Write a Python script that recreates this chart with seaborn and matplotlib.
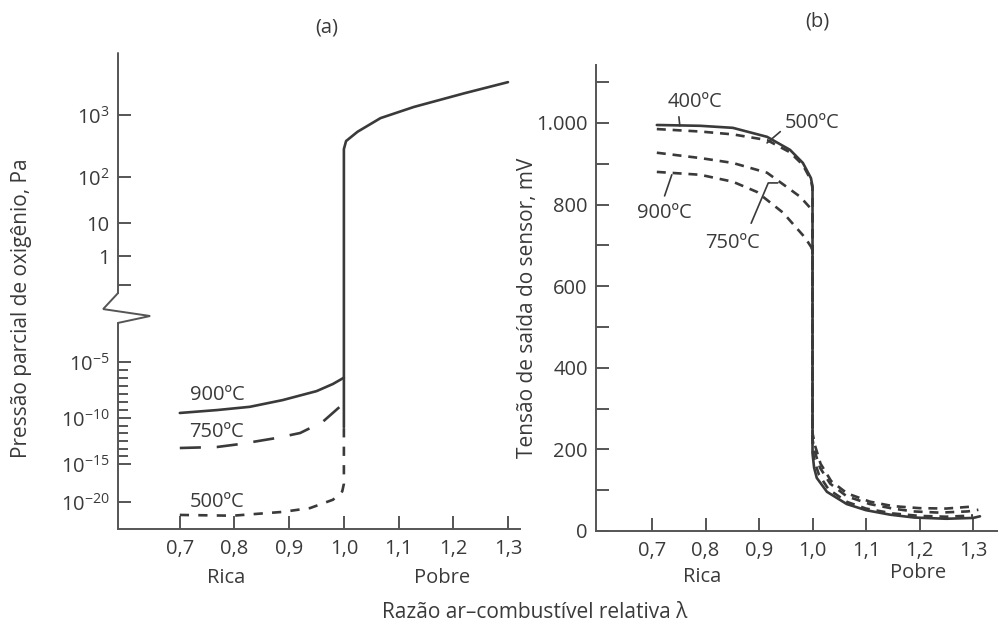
import numpy as np
import pandas as pd
import matplotlib
matplotlib.use("Agg")
import matplotlib.pyplot as plt
import matplotlib.transforms as mtransforms
import seaborn as sns

# ---------------------------------------------------------------------------
# Data
# ---------------------------------------------------------------------------
# (a) oxygen partial pressure, stored as log10(p / Pa), vs relative air-fuel ratio
lam_900_rich = [0.70, 0.768, 0.828, 0.888, 0.95, 0.98, 1.0]
logp_900_rich = [-9.55, -9.29, -9.0, -8.4, -7.6, -6.96, -6.4]

lam_750_rich = [0.70, 0.768, 0.81, 0.877, 0.92, 0.961, 0.992]
logp_750_rich = [-13.26, -13.15, -12.83, -12.17, -11.63, -10.43, -9.02]

lam_500_rich = [0.70, 0.797, 0.888, 0.938, 0.98, 0.997, 1.0, 1.0]
logp_500_rich = [-21.7, -21.8, -21.3, -20.8, -19.7, -18.6, -17.6, -11.0]

lam_lean = [1.0, 1.0, 1.004, 1.025, 1.067, 1.128, 1.22, 1.30]
logp_lean = [-11.0, 2.45, 2.58, 2.73, 2.95, 3.13, 3.35, 3.53]

logp_ticks = [3, 2, 1, 0, -1, -5, -10, -15, -20]
logp_tick_labels = ["$10^{3}$", "$10^{2}$", "10", "1", "",
                    "$10^{-5}$", "$10^{-10}$", "$10^{-15}$", "$10^{-20}$"]

# (b) sensor output voltage (mV) vs relative air-fuel ratio
lam_400 = [0.709, 0.79, 0.851, 0.915, 0.958, 0.982, 0.997, 1.0, 1.0,
           1.003, 1.008, 1.027, 1.064, 1.10, 1.145, 1.19, 1.25, 1.30, 1.313]
mv_400 = [995, 993, 988, 966, 934, 902, 865, 845, 190,
          155, 130, 96, 66, 51, 40, 33, 30, 32, 36]

lam_500 = [0.709, 0.79, 0.851, 0.915, 0.958, 0.982, 0.997, 1.0, 1.0,
           1.004, 1.012, 1.03, 1.065, 1.10, 1.15, 1.20, 1.25, 1.30]
mv_500 = [985, 979, 972, 958, 928, 897, 860, 840, 200,
          170, 138, 102, 71, 55, 43, 37, 35, 38]

lam_750 = [0.709, 0.79, 0.851, 0.915, 0.952, 0.977, 0.999, 1.0, 1.0,
           1.004, 1.014, 1.033, 1.064, 1.107, 1.15, 1.188, 1.238, 1.29, 1.31]
mv_750 = [927, 914, 902, 878, 843, 819, 787, 770, 225,
          195, 155, 116, 85, 66, 55, 48, 45, 48, 52]

lam_900 = [0.709, 0.79, 0.851, 0.896, 0.945, 0.986, 0.998, 1.0, 1.0,
           1.005, 1.015, 1.035, 1.065, 1.107, 1.15, 1.20, 1.25, 1.30]
mv_900 = [880, 873, 856, 831, 780, 719, 695, 680, 240,
          208, 165, 122, 92, 72, 61, 56, 55, 60]

mv_ticks = [0, 100, 200, 300, 400, 500, 600, 700, 800, 900, 1000, 1100]
mv_tick_labels = ["0", "", "200", "", "400", "", "600", "", "800", "", "1.000", ""]

lam_ticks = [0.7, 0.8, 0.9, 1.0, 1.1, 1.2, 1.3]
lam_tick_labels = ["0,7", "0,8", "0,9", "1,0", "1,1", "1,2", "1,3"]

# ---------------------------------------------------------------------------
# Style
# ---------------------------------------------------------------------------
sns.set_theme(style="white")
plt.rcParams["font.family"] = ["Open Sans", "DejaVu Sans"]
plt.rcParams["mathtext.default"] = "regular"

INK = "#3a3a3a"
AXC = "#555555"
LW = 1.9
FS = 14.5
FS_LABEL = 15

fig = plt.figure(figsize=(9.98, 6.33), dpi=100)
fig.patch.set_facecolor("white")

ax_a = fig.add_axes([118 / 998, 1 - 529 / 633, 402 / 998, (529 - 53) / 633])
ax_b = fig.add_axes([596 / 998, 1 - 531 / 633, 402 / 998, (531 - 65) / 633])

# Non-uniform pressure scale: piecewise-linear in decades with a broken axis
E_KNOTS = np.array([-20, -15, -10, -5, -1, 0, 1, 2, 3], float)
U_KNOTS = np.array([131, 169, 215, 271, 348, 377, 410, 456, 518], float)


def _pw(v, xs, ys):
    v = np.asarray(v, float)
    out = np.interp(v, xs, ys)
    s_lo = (ys[1] - ys[0]) / (xs[1] - xs[0])
    s_hi = (ys[-1] - ys[-2]) / (xs[-1] - xs[-2])
    out = np.where(v < xs[0], ys[0] + (v - xs[0]) * s_lo, out)
    out = np.where(v > xs[-1], ys[-1] + (v - xs[-1]) * s_hi, out)
    return out


def p_forward(e):
    return _pw(e, E_KNOTS, U_KNOTS)


def p_inverse(u):
    return _pw(u, U_KNOTS, E_KNOTS)


ax_a.set_yscale("function", functions=(p_forward, p_inverse))

for ax in (ax_a, ax_b):
    ax.set_facecolor("none")
    for side in ("top", "right"):
        ax.spines[side].set_visible(False)
    for side in ("left", "bottom"):
        ax.spines[side].set_color(AXC)
        ax.spines[side].set_linewidth(1.4)
    ax.tick_params(which="both", bottom=True, left=True, top=False, right=False)
    ax.tick_params(direction="in", length=9.5, width=1.4, color=AXC,
                   labelcolor=INK, labelsize=FS)
    ax.tick_params(axis="x", pad=7)
    ax.tick_params(axis="y", pad=6)
    ax.tick_params(which="minor", direction="in", length=7.5, width=1.4, color=AXC)
    ax.set_xticks(lam_ticks)
    ax.set_xticklabels(lam_tick_labels)
    ax.set_xlabel("")
    ax.set_ylabel("")


def curve(ax, x, y, dashes=None):
    ls = "-" if dashes is None else (0, dashes)
    sns.lineplot(x=x, y=y, ax=ax, estimator=None, sort=False, color=INK,
                 linewidth=LW, linestyle=ls, legend=False)


# ---------------------------------------------------------------------------
# (a) Oxygen partial pressure
# ---------------------------------------------------------------------------
curve(ax_a, lam_900_rich, logp_900_rich)
curve(ax_a, lam_750_rich, logp_750_rich, dashes=(8, 6))
curve(ax_a, lam_500_rich, logp_500_rich, dashes=(3.5, 3.5))
curve(ax_a, lam_lean, logp_lean)

ax_a.set_xlim(0.587, 1.322)
ax_a.set_ylim(-23.55, 4.0)
ax_a.set_yticks(logp_ticks)
ax_a.set_yticklabels(logp_tick_labels)
minor_e = list(-5 - np.arange(1, 7) * 5 / 7) + list(-10 - np.arange(1, 6) * 5 / 6)
ax_a.set_yticks(minor_e, minor=True)
ax_a.tick_params(axis="y", which="minor", labelleft=False)

# broken left spine with zigzag
ax_a.spines["left"].set_visible(False)
tr = mtransforms.blended_transform_factory(ax_a.transAxes, ax_a.transData)
spine_kw = dict(color=AXC, lw=1.4, transform=tr, clip_on=False, solid_joinstyle="miter")
ax_a.plot([0, 0], [4.0, -1.42], **spine_kw)
ax_a.plot([0, -0.037, 0.080, 0], [-1.42, -2.25, -2.61, -2.97], **spine_kw)
ax_a.plot([0, 0], [-2.97, -23.55], **spine_kw)

for txt, x, y in [("900ºC", 0.768, -7.95), ("750ºC", 0.768, -11.5), ("500ºC", 0.768, -20.0)]:
    ax_a.text(x, y, txt, ha="center", va="center", fontsize=FS, color=INK)

# ---------------------------------------------------------------------------
# (b) Sensor output voltage
# ---------------------------------------------------------------------------
curve(ax_b, lam_900, mv_900, dashes=(3.4, 2.6))
curve(ax_b, lam_750, mv_750, dashes=(3.4, 2.6))
curve(ax_b, lam_500, mv_500, dashes=(3.4, 2.6))
curve(ax_b, lam_400, mv_400)

ax_b.set_xlim(0.5953, 1.3467)
ax_b.set_ylim(0, 1142)
ax_b.set_yticks(mv_ticks)
ax_b.set_yticklabels(mv_tick_labels)

lead = dict(arrowstyle="-", color=INK, lw=1.2, shrinkA=1, shrinkB=0)
ax_b.annotate("400ºC", xy=(0.752, 993), xytext=(0.780, 1051), ha="center", va="center",
              fontsize=FS, color=INK, arrowprops=dict(lead, relpos=(0.2, 0.0)))
ax_b.annotate("500ºC", xy=(0.915, 951), xytext=(0.999, 1000), ha="center", va="center",
              fontsize=FS, color=INK, arrowprops=dict(lead, relpos=(0.0, 0.25)))
ax_b.annotate("900ºC", xy=(0.737, 873), xytext=(0.724, 779), ha="center", va="center",
              fontsize=FS, color=INK, arrowprops=dict(lead, relpos=(0.45, 1.0), shrinkA=3))
ax_b.annotate("750ºC", xy=(0.935, 853), xytext=(0.850, 706), ha="center", va="center",
              fontsize=FS, color=INK,
              arrowprops=dict(lead, relpos=(0.77, 1.0), shrinkA=5,
                              connectionstyle="angle,angleA=67,angleB=0,rad=0"))

# ---------------------------------------------------------------------------
# Rich / lean captions, panel titles, axis titles
# ---------------------------------------------------------------------------
cap_kw = dict(ha="center", va="center", fontsize=FS, color=INK, annotation_clip=False,
              textcoords="offset points")
ax_a.annotate("Rica", xy=(0.785, 0), xycoords=("data", "axes fraction"), xytext=(0, -35), **cap_kw)
ax_a.annotate("Pobre", xy=(1.18, 0), xycoords=("data", "axes fraction"), xytext=(0, -35), **cap_kw)
ax_b.annotate("Rica", xy=(0.793, 0), xycoords=("data", "axes fraction"), xytext=(0, -33), **cap_kw)
ax_b.annotate("Pobre", xy=(1.197, 0), xycoords=("data", "axes fraction"), xytext=(0, -30), **cap_kw)

fig.text(327 / 998, 1 - 27 / 633, "(a)", ha="center", va="center", fontsize=FS, color=INK)
fig.text(817 / 998, 1 - 22 / 633, "(b)", ha="center", va="center", fontsize=FS, color=INK)
fig.text(22 / 998, 1 - 308 / 633, "Pressão parcial de oxigênio, Pa", rotation=90,
         ha="center", va="center", fontsize=FS_LABEL, color=INK)
fig.text(528 / 998, 1 - 308 / 633, "Tensão de saída do sensor, mV", rotation=90,
         ha="center", va="center", fontsize=FS_LABEL, color=INK)
fig.text(535 / 998, 1 - 613 / 633, "Razão ar–combustível relativa λ",
         ha="center", va="center", fontsize=FS_LABEL, color=INK)

fig.savefig("out.png", dpi=100, facecolor="white")
